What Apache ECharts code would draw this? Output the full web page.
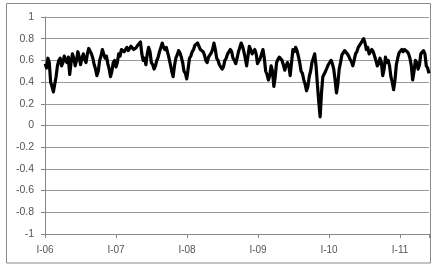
<!DOCTYPE html>
<html>
<head>
<meta charset="utf-8">
<script src="https://cdn.jsdelivr.net/npm/echarts@6/dist/echarts.min.js"></script>
<style>
html,body{margin:0;padding:0;background:#fff;}
#c{width:435px;height:265px;}
</style>
</head>
<body>
<div id="c"></div>
<script>
// Start of series (fractional year) and spacing between readings (weekly)
const startYear = 2006;
const stepDays = 7;
// Year tick labels
const yearTicks = [2006, 2007, 2008, 2009, 2010, 2011];
const yTicks = [-1, -0.8, -0.6, -0.4, -0.2, 0, 0.2, 0.4, 0.6, 0.8, 1];
// Weekly values
const values = [
  0.57, 0.53, 0.62, 0.58, 0.40, 0.36, 0.31, 0.38, 0.45, 0.55,
  0.60, 0.62, 0.55, 0.58, 0.64, 0.60, 0.58, 0.63, 0.47, 0.58,
  0.66, 0.62, 0.55, 0.60, 0.68, 0.63, 0.56, 0.62, 0.66, 0.61,
  0.58, 0.66, 0.71, 0.70, 0.66, 0.62, 0.56, 0.52, 0.46, 0.50,
  0.60, 0.64, 0.70, 0.66, 0.62, 0.64, 0.57, 0.52, 0.45, 0.50,
  0.58, 0.60, 0.54, 0.58, 0.66, 0.64, 0.70, 0.71, 0.68, 0.70,
  0.72, 0.69, 0.70, 0.73, 0.72, 0.70, 0.69, 0.72, 0.74, 0.73,
  0.77, 0.66, 0.60, 0.62, 0.56, 0.66, 0.72, 0.68, 0.58, 0.56,
  0.52, 0.55, 0.60, 0.63, 0.68, 0.72, 0.76, 0.72, 0.70, 0.72,
  0.67, 0.62, 0.56, 0.50, 0.45, 0.55, 0.62, 0.65, 0.69, 0.67,
  0.63, 0.58, 0.50, 0.48, 0.43, 0.52, 0.62, 0.64, 0.68, 0.70,
  0.74, 0.73, 0.76, 0.73, 0.70, 0.71, 0.68, 0.65, 0.60, 0.58,
  0.63, 0.64, 0.67, 0.70, 0.76, 0.70, 0.62, 0.60, 0.56, 0.57,
  0.52, 0.54, 0.60, 0.62, 0.66, 0.67, 0.70, 0.68, 0.62, 0.60,
  0.57, 0.62, 0.68, 0.72, 0.76, 0.73, 0.68, 0.62, 0.55, 0.64,
  0.73, 0.70, 0.66, 0.65, 0.70, 0.66, 0.57, 0.58, 0.62, 0.66,
  0.70, 0.62, 0.50, 0.47, 0.42, 0.46, 0.55, 0.50, 0.36, 0.45,
  0.58, 0.61, 0.63, 0.64, 0.60, 0.56, 0.51, 0.55, 0.58, 0.55,
  0.46, 0.58, 0.70, 0.68, 0.72, 0.69, 0.64, 0.58, 0.50, 0.48,
  0.42, 0.38, 0.32, 0.36, 0.45, 0.50, 0.58, 0.62, 0.66, 0.55,
  0.38, 0.22, 0.08, 0.30, 0.45, 0.44, 0.50, 0.53, 0.56, 0.55,
  0.60, 0.57, 0.52, 0.42, 0.30, 0.38, 0.52, 0.58, 0.65, 0.64,
  0.69, 0.68, 0.66, 0.64, 0.61, 0.59, 0.55, 0.60, 0.66, 0.68,
  0.72, 0.73, 0.76, 0.77, 0.80, 0.76, 0.70, 0.72, 0.66, 0.65,
  0.70, 0.68, 0.64, 0.60, 0.55, 0.57, 0.62, 0.58, 0.46, 0.52,
  0.63, 0.58, 0.60, 0.55, 0.45, 0.40, 0.33, 0.42, 0.56, 0.62,
  0.67, 0.68, 0.70, 0.68, 0.70, 0.70, 0.68, 0.66, 0.62, 0.55,
  0.42, 0.50, 0.60, 0.58, 0.52, 0.56, 0.66, 0.65, 0.69, 0.66,
  0.55, 0.53, 0.48
];

const data = values.map((v, i) => [startYear + (1 + i * stepDays) / 365.25, v]);
const xMax = data[data.length - 1][0];

const font = 'Liberation Sans, Arial, sans-serif';
const chart = echarts.init(document.getElementById('c'));
chart.setOption({
  animation: false,
  backgroundColor: '#fff',
  graphic: [{
    type: 'rect',
    shape: {x: 6.5, y: 3.5, width: 424, height: 259.5},
    style: {fill: 'none', stroke: '#8a8a8a', lineWidth: 1},
    silent: true,
    z: 0
  }],
  grid: {left: 45, right: 6, top: 17, bottom: 31},
  xAxis: [{
    type: 'value',
    min: yearTicks[0],
    max: xMax,
    interval: 1,
    axisLine: {show: false},
    axisTick: {show: false},
    splitLine: {show: false},
    axisLabel: {
      show: true,
      margin: 11,
      fontSize: 10,
      fontFamily: font,
      color: '#555',
      showMaxLabel: false,
      formatter: function (v) {
        return yearTicks.indexOf(v) >= 0 ? 'I-' + String(v).slice(2) : '';
      }
    }
  }, {
    type: 'value',
    position: 'bottom',
    min: yearTicks[0],
    max: xMax,
    interval: 1,
    axisLine: {show: true, onZero: true, lineStyle: {color: '#868686', width: 1}},
    axisTick: {show: true, length: 4, lineStyle: {color: '#868686'}},
    axisLabel: {show: false},
    splitLine: {show: false}
  }],
  yAxis: {
    type: 'value',
    min: yTicks[0],
    max: yTicks[yTicks.length - 1],
    interval: 0.2,
    axisLine: {show: true, lineStyle: {color: '#868686', width: 1}},
    axisTick: {show: true, length: 4, lineStyle: {color: '#868686'}},
    splitLine: {show: true, lineStyle: {color: '#999', width: 1}},
    axisLabel: {
      margin: 11,
      fontSize: 10.5,
      fontFamily: font,
      color: '#555',
      formatter: function (v) {
        const r = Math.round(v * 10) / 10;
        return String(r);
      }
    }
  },
  series: [{
    type: 'line',
    xAxisIndex: 0,
    data: data,
    showSymbol: false,
    symbol: 'none',
    lineStyle: {color: '#000', width: 3.2, join: 'round'},
    z: 5
  }]
});
</script>
</body>
</html>
